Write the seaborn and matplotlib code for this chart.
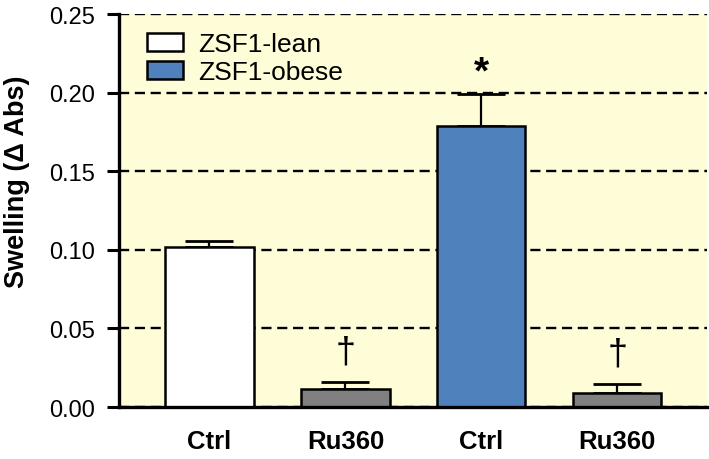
import numpy as np
import pandas as pd
import seaborn as sns
import matplotlib.pyplot as plt
from matplotlib.patches import Patch

# values
groups = ["lean_ctrl", "lean_ru360", "obese_ctrl", "obese_ru360"]
tick_labels = ["Ctrl", "Ru360", "Ctrl", "Ru360"]
swelling = [0.102, 0.0115, 0.1786, 0.0087]
sem = [0.0035, 0.0042, 0.0205, 0.0059]
marks = ["", "\u2020", "*", "\u2020"]
bar_colors = ["#FFFFFF", "#808080", "#4F81BD", "#808080"]
legend_labels = ["ZSF1-lean", "ZSF1-obese"]
legend_colors = ["#FFFFFF", "#4F81BD"]

df = pd.DataFrame({"group": groups, "swelling": swelling})

sns.set_theme(style="white")
plt.rcParams["font.family"] = ["Liberation Sans", "DejaVu Sans"]
for key in ["text.color", "axes.labelcolor", "xtick.color", "ytick.color"]:
    plt.rcParams[key] = "black"

fig = plt.figure(figsize=(7.09, 4.6), dpi=100)
ax = fig.add_axes([0.168, 0.113, 0.829, 0.854])
ax.set_facecolor("#FFFCD8")

# dashed grid
ax.set_axisbelow(True)
ax.yaxis.grid(True, color="black", linewidth=1.7, linestyle=(0, (4.3, 2.4)))
ax.xaxis.grid(False)

sns.barplot(data=df, x="group", y="swelling", hue="group", palette=bar_colors,
            order=groups, hue_order=groups, legend=False, width=0.65, saturation=1,
            edgecolor="black", linewidth=1.8, errorbar=None, ax=ax, zorder=3)

pos = np.arange(len(groups))
ax.errorbar(pos, swelling, yerr=[np.zeros(len(sem)), sem], fmt="none",
            ecolor="black", elinewidth=1.6, capsize=17, capthick=2.0, zorder=2)

for x, top, m in zip(pos, np.array(swelling) + np.array(sem), marks):
    if not m:
        continue
    if m == "*":
        ax.annotate(m, (x, top), xytext=(0, 3), textcoords="offset points",
                    ha="center", va="bottom", fontsize=28, fontweight="bold")
    else:
        ax.annotate(m, (x, top), xytext=(0, 9), textcoords="offset points",
                    ha="center", va="bottom", fontsize=26)

ax.set_xlim(-0.665, 3.66)
ax.set_ylim(0, 0.25)
ax.set_yticks(np.arange(0, 0.251, 0.05))
ax.set_yticklabels([f"{v:.2f}" for v in np.arange(0, 0.251, 0.05)], fontsize=17)
ax.set_xticks(pos)
ax.set_xticklabels(tick_labels, fontsize=18.5, fontweight="bold")
ax.tick_params(axis="y", direction="out", length=8.5, width=2.2, left=True, pad=9)
ax.tick_params(axis="x", length=0, pad=16)

ax.set_xlabel("")
ax.set_ylabel("Swelling (\u0394 Abs)", fontsize=19.5, fontweight="bold")
ax.yaxis.set_label_coords(-0.151, 0.577)

for side in ["top", "right"]:
    ax.spines[side].set_visible(False)
for side in ["left", "bottom"]:
    ax.spines[side].set_linewidth(2.4)
    ax.spines[side].set_color("black")
    ax.spines[side].set_zorder(4)

handles = [Patch(facecolor=c, edgecolor="black", linewidth=1.8) for c in legend_colors]
ax.legend(handles, legend_labels, loc="upper left", bbox_to_anchor=(0.02, 0.995),
          frameon=False, fontsize=19, handlelength=1.36, handleheight=0.68,
          handletextpad=0.6, labelspacing=0.15, borderaxespad=0.2)

fig.savefig("out.png", dpi=100)
